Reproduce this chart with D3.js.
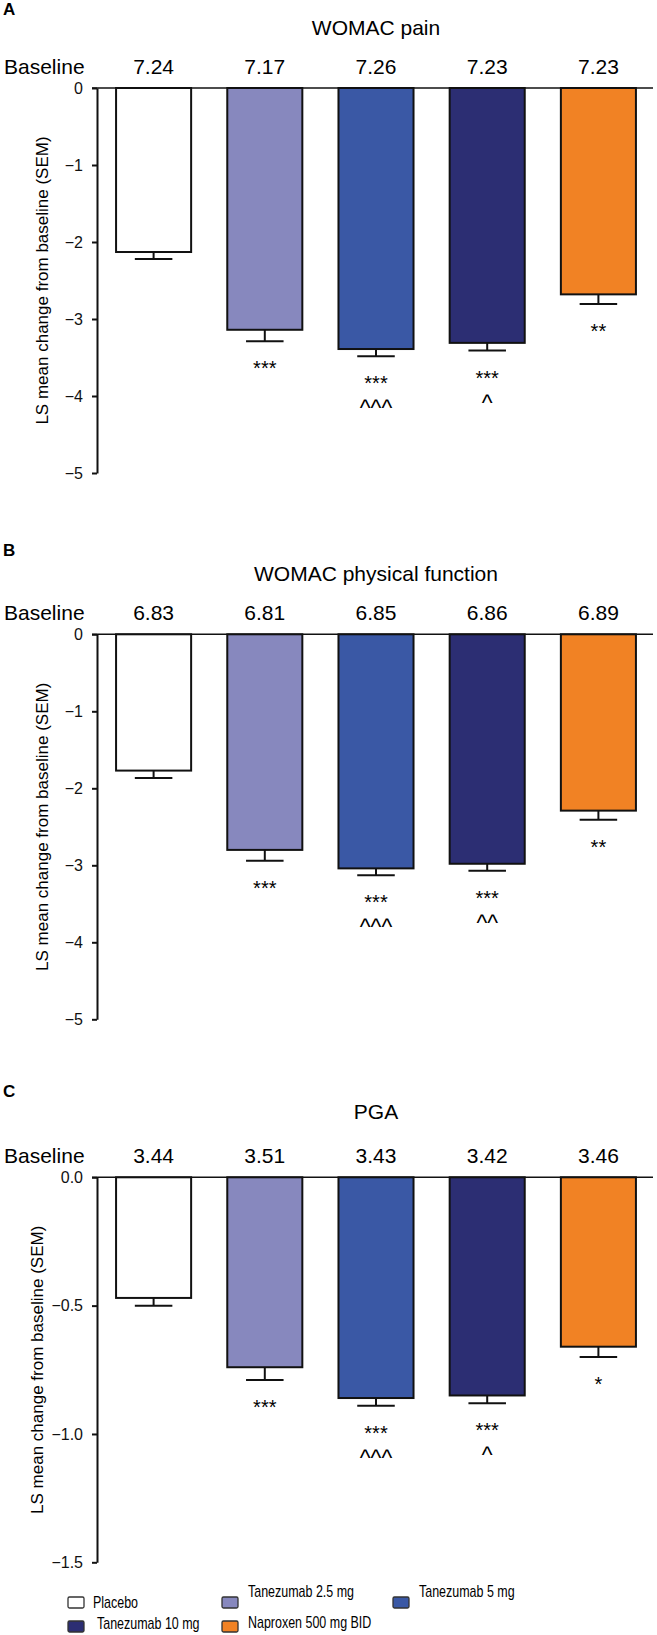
<!DOCTYPE html>
<html>
<head>
<meta charset="utf-8">
<script src="https://cdn.jsdelivr.net/npm/d3@7"></script>
<style>
  html, body { margin: 0; padding: 0; background: #fff; }
  svg { display: block; font-family: "Liberation Sans", Arial, Helvetica, sans-serif; }
</style>
</head>
<body>
<svg id="chart" width="657" height="1635"></svg>
<script>
// ---------- DATA ----------
const categories = ["Placebo", "Tanezumab 2.5 mg", "Tanezumab 5 mg", "Tanezumab 10 mg", "Naproxen 500 mg BID"];
const colors = ["#ffffff", "#8788be", "#3a58a5", "#2c2e73", "#f18224"];

const painMean = [-2.13, -3.14, -3.39, -3.31, -2.68];
const painSEM = [0.09, 0.15, 0.095, 0.10, 0.125];
const painBaseline = ["7.24", "7.17", "7.26", "7.23", "7.23"];
const painStars = ["", "***", "***", "***", "**"];
const painCarets = ["", "", "^^^", "^", ""];
const painTicks = [0, -1, -2, -3, -4, -5];

const functionMean = [-1.77, -2.80, -3.04, -2.98, -2.29];
const functionSEM = [0.095, 0.14, 0.09, 0.09, 0.12];
const functionBaseline = ["6.83", "6.81", "6.85", "6.86", "6.89"];
const functionStars = ["", "***", "***", "***", "**"];
const functionCarets = ["", "", "^^^", "^^", ""];
const functionTicks = [0, -1, -2, -3, -4, -5];

const pgaMean = [-0.47, -0.74, -0.86, -0.85, -0.66];
const pgaSEM = [0.03, 0.05, 0.03, 0.03, 0.04];
const pgaBaseline = ["3.44", "3.51", "3.43", "3.42", "3.46"];
const pgaStars = ["", "***", "***", "***", "*"];
const pgaCarets = ["", "", "^^^", "^", ""];
const pgaTicks = [0, -0.5, -1.0, -1.5];

// ---------- RENDER ----------
const svg = d3.select("#chart");
const axisX = 97;
const axisLen = 385;
const x = d3.scaleBand().domain(categories).range([98, 654]).paddingInner(0.325).paddingOuter(0.1625);
const color = d3.scaleOrdinal().domain(categories).range(colors);

const panels = [
  { letter: "A", title: "WOMAC pain", mean: painMean, sem: painSEM, base: painBaseline, stars: painStars, carets: painCarets, ticks: painTicks, fmt: d3.format("d"), zeroY: 88, letterOff: 73, titleOff: 53, labelX: 42 },
  { letter: "B", title: "WOMAC physical function", mean: functionMean, sem: functionSEM, base: functionBaseline, stars: functionStars, carets: functionCarets, ticks: functionTicks, fmt: d3.format("d"), zeroY: 634.3, letterOff: 78, titleOff: 53, labelX: 42 },
  { letter: "C", title: "PGA", mean: pgaMean, sem: pgaSEM, base: pgaBaseline, stars: pgaStars, carets: pgaCarets, ticks: pgaTicks, fmt: d3.format(".1f"), zeroY: 1177.3, letterOff: 80, titleOff: 58, labelX: 37 }
];

panels.forEach(p => {
  const g = svg.append("g");
  const y = d3.scaleLinear().domain([0, d3.min(p.ticks)]).range([p.zeroY, p.zeroY + axisLen]);
  const rows = categories.map((c, i) => ({ cat: c, mean: p.mean[i], sem: p.sem[i], base: p.base[i], star: p.stars[i], caret: p.carets[i] }));

  // panel letter
  g.append("text").attr("x", 3).attr("y", p.zeroY - p.letterOff)
    .attr("font-size", 17).attr("font-weight", "bold").text(p.letter);
  // title
  g.append("text").attr("x", (x.range()[0] + x.range()[1]) / 2).attr("y", p.zeroY - p.titleOff)
    .attr("text-anchor", "middle").attr("font-size", 21).text(p.title);
  // baseline row
  g.append("text").attr("x", 4).attr("y", p.zeroY - 14).attr("font-size", 21).text("Baseline");
  g.selectAll(".base").data(rows).enter().append("text")
    .attr("x", d => x(d.cat) + x.bandwidth() / 2).attr("y", p.zeroY - 14)
    .attr("text-anchor", "middle").attr("font-size", 21).text(d => d.base);

  // bars
  g.selectAll(".bar").data(rows).enter().append("rect")
    .attr("x", d => x(d.cat)).attr("y", y(0))
    .attr("width", x.bandwidth()).attr("height", d => y(d.mean) - y(0))
    .attr("fill", d => color(d.cat)).attr("stroke", "#111").attr("stroke-width", 2);

  // error bars
  const capW = x.bandwidth() / 2;
  g.selectAll(".errv").data(rows).enter().append("line")
    .attr("x1", d => x(d.cat) + x.bandwidth() / 2).attr("x2", d => x(d.cat) + x.bandwidth() / 2)
    .attr("y1", d => y(d.mean)).attr("y2", d => y(d.mean - d.sem))
    .attr("stroke", "#111").attr("stroke-width", 2);
  g.selectAll(".errh").data(rows).enter().append("line")
    .attr("x1", d => x(d.cat) + x.bandwidth() / 2 - capW / 2).attr("x2", d => x(d.cat) + x.bandwidth() / 2 + capW / 2)
    .attr("y1", d => y(d.mean - d.sem)).attr("y2", d => y(d.mean - d.sem))
    .attr("stroke", "#111").attr("stroke-width", 2);

  // significance marks
  g.selectAll(".star").data(rows).enter().append("text")
    .attr("x", d => x(d.cat) + x.bandwidth() / 2).attr("y", d => y(d.mean - d.sem) + 34)
    .attr("text-anchor", "middle").attr("font-size", 20).text(d => d.star);
  g.selectAll(".caret").data(rows).enter().append("text")
    .attr("x", d => x(d.cat) + x.bandwidth() / 2).attr("y", d => y(d.mean - d.sem) + 60)
    .attr("text-anchor", "middle").attr("font-size", 23).text(d => d.caret);

  // zero line
  g.append("line").attr("x1", axisX - 5).attr("x2", 653).attr("y1", y(0)).attr("y2", y(0))
    .attr("stroke", "#111").attr("stroke-width", 1.6);

  // y axis
  const ax = g.append("g").attr("transform", `translate(${axisX},0)`)
    .call(d3.axisLeft(y).tickValues(p.ticks).tickFormat(p.fmt).tickSize(5).tickSizeOuter(0).tickPadding(9));
  ax.select(".domain").attr("stroke", "#111").attr("stroke-width", 2);
  ax.selectAll(".tick line").attr("stroke", "#111").attr("stroke-width", 2);
  ax.selectAll(".tick text").attr("font-size", 16).attr("font-family", null).attr("fill", "#111");

  // y label
  g.append("text")
    .attr("transform", `translate(${p.labelX},${p.zeroY + axisLen / 2}) rotate(-90)`)
    .attr("text-anchor", "middle").attr("dominant-baseline", "central")
    .attr("font-size", 17).text("LS mean change from baseline (SEM)");
});

// legend
const legendCols = [68, 222, 393];
const legendRows = [1597, 1621];
const legendTextDx = [25, 26, 26, 29, 26];
const legendTextDy = [11, 0, 0, 8, 7];
const lg = svg.append("g").attr("class", "legend");
categories.forEach((c, i) => {
  const col = i < 3 ? i : i - 3;
  const row = i < 3 ? 0 : 1;
  const gx = legendCols[col], gy = legendRows[row];
  lg.append("rect").attr("x", gx).attr("y", gy).attr("width", 16).attr("height", 11).attr("rx", 1.5)
    .attr("fill", color(c)).attr("stroke", "#333").attr("stroke-width", 1.3);
  lg.append("text")
    .attr("transform", `translate(${gx + legendTextDx[i]},${gy + legendTextDy[i]}) scale(0.78,1)`)
    .attr("font-size", 16)
    .text(c);
});
</script>
</body>
</html>
